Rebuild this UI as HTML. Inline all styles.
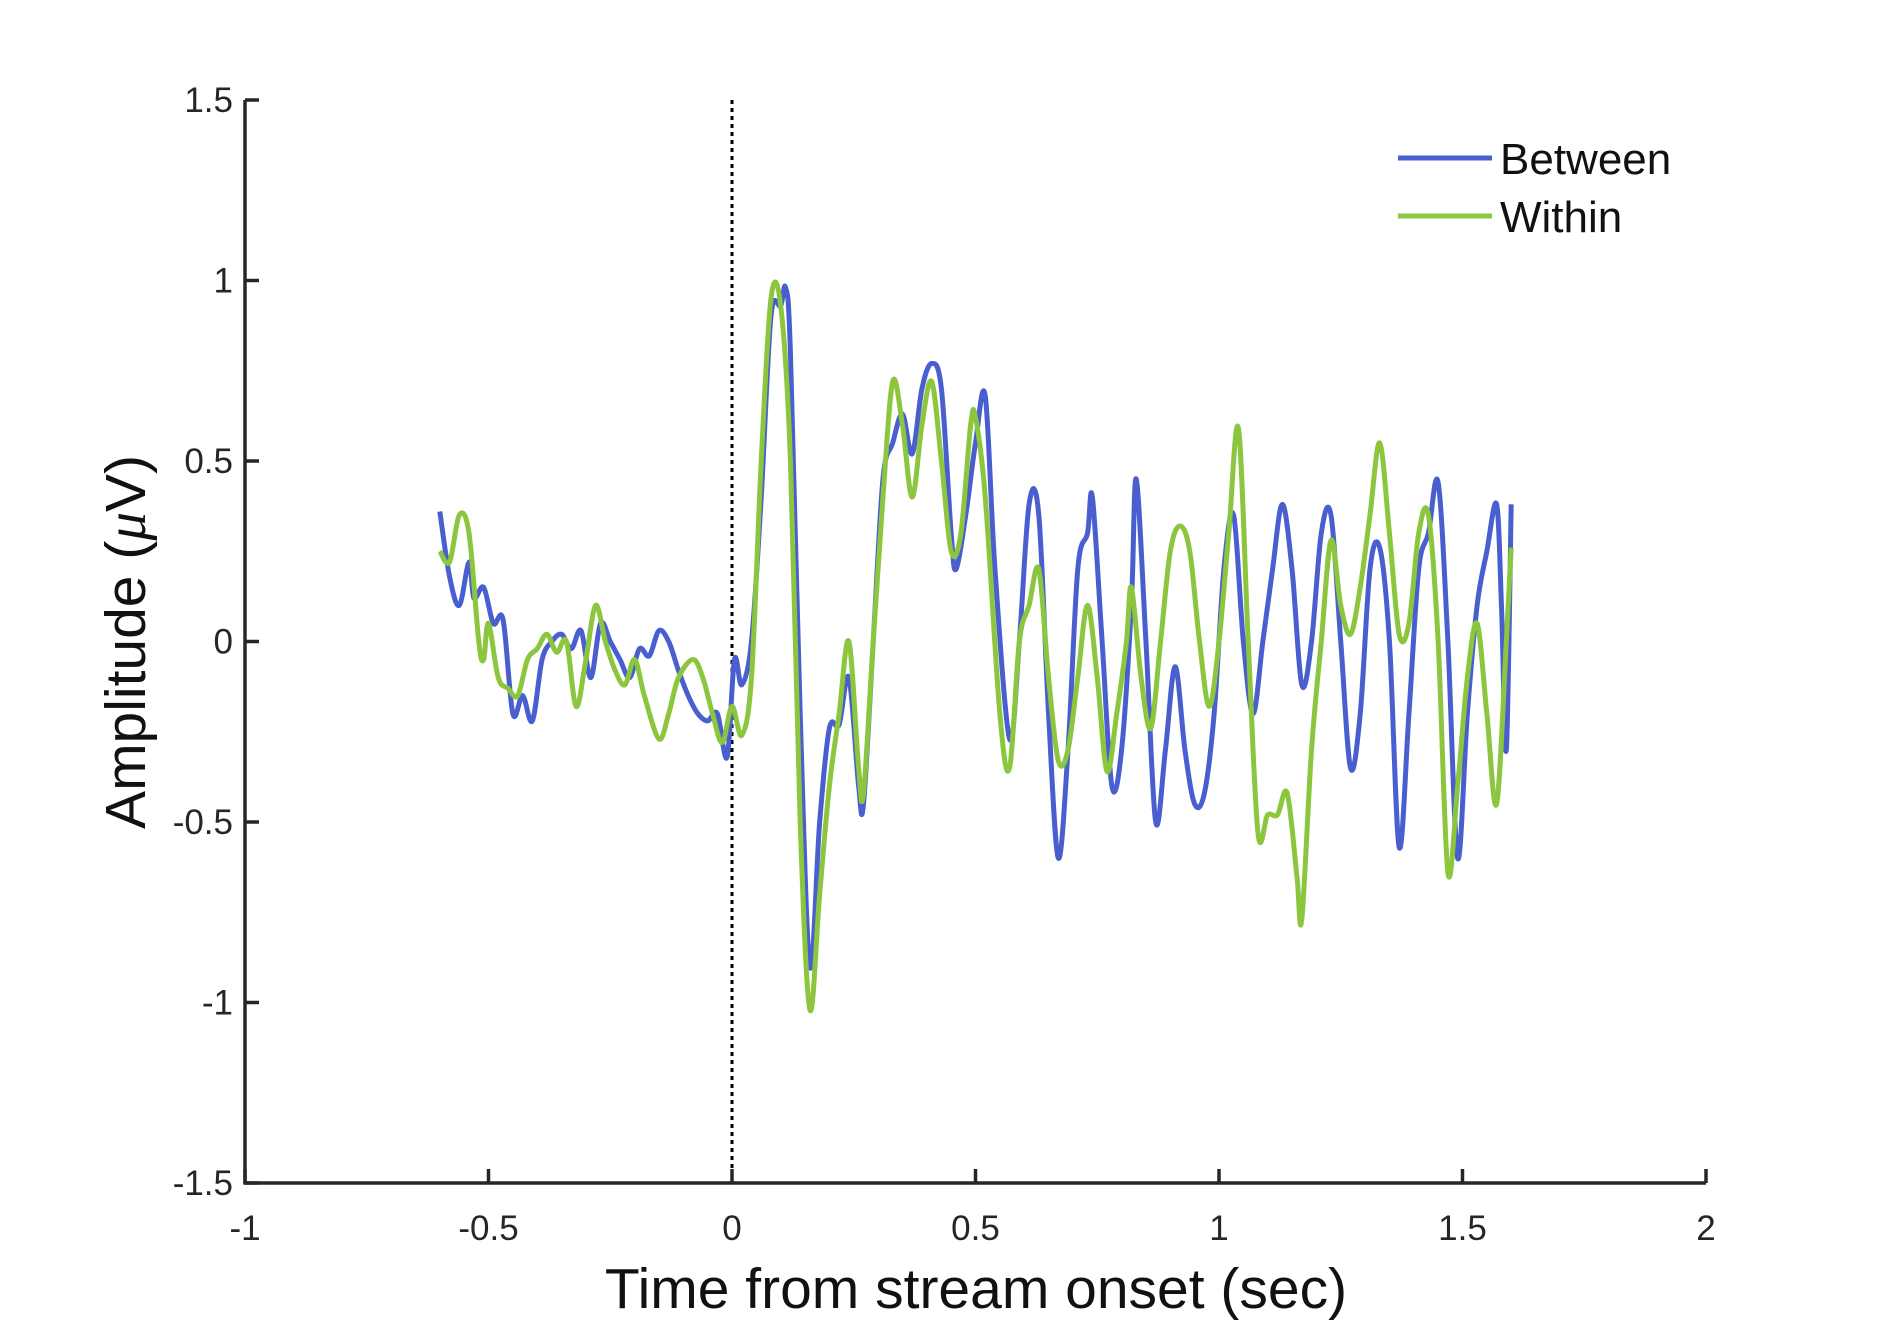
<!DOCTYPE html>
<html><head><meta charset="utf-8"><style>
body{margin:0;background:#fff;}
svg{display:block;font-family:"Liberation Sans",sans-serif;}
</style></head><body>
<svg id="chart" width="1891" height="1337" viewBox="0 0 1891 1337">
<g id="lines"></g>
<g id="axes"></g>
<g>
<line x1="1398" y1="158" x2="1492" y2="158" stroke="#4a5fcf" stroke-width="5"/>
<text x="1500" y="174" font-size="44" fill="#111">Between</text>
<line x1="1398" y1="216" x2="1492" y2="216" stroke="#8cc63f" stroke-width="5"/>
<text x="1500" y="232" font-size="44" fill="#111">Within</text>
</g>
<text x="976" y="1308" font-size="57" text-anchor="middle" fill="#111">Time from stream onset (sec)</text>
<text transform="translate(145,642) rotate(-90)" font-size="57" text-anchor="middle" fill="#111">Amplitude (<tspan font-style="italic" font-family="Liberation Serif">μ</tspan>V)</text>
</svg>
<script>
const betweenT=[-0.6,-0.58,-0.56,-0.54,-0.53,-0.51,-0.49,-0.47,-0.45,-0.43,-0.41,-0.39,-0.37,-0.35,-0.33,-0.31,-0.29,-0.27,-0.25,-0.23,-0.21,-0.19,-0.17,-0.15,-0.13,-0.11,-0.09,-0.07,-0.05,-0.03,-0.01,0.005,0.02,0.04,0.06,0.08,0.1,0.11,0.12,0.14,0.16,0.18,0.2,0.22,0.24,0.26,0.27,0.29,0.31,0.33,0.35,0.37,0.39,0.41,0.43,0.45,0.46,0.48,0.5,0.52,0.54,0.57,0.59,0.61,0.63,0.65,0.67,0.69,0.71,0.73,0.74,0.76,0.78,0.8,0.82,0.83,0.85,0.87,0.89,0.91,0.93,0.95,0.97,0.99,1.01,1.03,1.05,1.07,1.09,1.11,1.13,1.15,1.17,1.19,1.21,1.23,1.25,1.27,1.29,1.31,1.33,1.35,1.37,1.39,1.41,1.43,1.45,1.47,1.49,1.51,1.53,1.55,1.57,1.58,1.59,1.6];
const betweenV=[0.36,0.18,0.1,0.22,0.12,0.15,0.05,0.06,-0.2,-0.15,-0.22,-0.05,0.0,0.02,-0.02,0.03,-0.1,0.05,0.0,-0.05,-0.1,-0.02,-0.04,0.03,0.0,-0.08,-0.15,-0.2,-0.22,-0.2,-0.32,-0.05,-0.12,0.0,0.4,0.9,0.93,0.98,0.8,-0.2,-0.9,-0.5,-0.24,-0.23,-0.1,-0.4,-0.45,0.0,0.45,0.55,0.63,0.52,0.7,0.77,0.7,0.3,0.2,0.35,0.55,0.68,0.2,-0.27,0.0,0.38,0.35,-0.2,-0.6,-0.3,0.2,0.3,0.4,0.0,-0.4,-0.3,0.1,0.45,0.0,-0.5,-0.3,-0.07,-0.3,-0.45,-0.42,-0.2,0.2,0.35,0.0,-0.2,0.0,0.2,0.38,0.2,-0.12,0.0,0.3,0.35,0.0,-0.35,-0.2,0.2,0.26,0.0,-0.57,-0.2,0.2,0.3,0.44,0.0,-0.6,-0.2,0.1,0.25,0.38,0.1,-0.3,0.38];
const withinT=[-0.6,-0.58,-0.56,-0.54,-0.52,-0.51,-0.5,-0.48,-0.46,-0.44,-0.42,-0.4,-0.38,-0.36,-0.34,-0.32,-0.3,-0.28,-0.26,-0.24,-0.22,-0.2,-0.18,-0.15,-0.13,-0.11,-0.08,-0.06,-0.04,-0.02,0.0,0.02,0.04,0.06,0.08,0.1,0.12,0.14,0.16,0.18,0.2,0.22,0.24,0.26,0.27,0.29,0.31,0.33,0.35,0.37,0.39,0.41,0.43,0.45,0.47,0.49,0.5,0.52,0.55,0.57,0.59,0.61,0.63,0.65,0.67,0.69,0.71,0.73,0.75,0.77,0.79,0.81,0.82,0.84,0.86,0.88,0.9,0.92,0.94,0.96,0.98,1.0,1.02,1.04,1.06,1.08,1.1,1.12,1.14,1.16,1.17,1.19,1.21,1.23,1.25,1.27,1.29,1.31,1.33,1.35,1.37,1.39,1.41,1.43,1.45,1.47,1.49,1.51,1.53,1.55,1.57,1.59,1.6];
const withinV=[0.25,0.22,0.35,0.3,0.0,-0.05,0.05,-0.1,-0.13,-0.15,-0.05,-0.02,0.02,-0.03,0.0,-0.18,-0.05,0.1,0.0,-0.08,-0.12,-0.05,-0.15,-0.27,-0.2,-0.1,-0.05,-0.1,-0.2,-0.28,-0.18,-0.26,-0.1,0.5,0.95,0.93,0.5,-0.5,-1.02,-0.7,-0.4,-0.2,0.0,-0.35,-0.42,0.0,0.4,0.72,0.6,0.4,0.6,0.72,0.5,0.25,0.3,0.6,0.62,0.4,-0.2,-0.35,0.0,0.1,0.2,-0.1,-0.33,-0.3,-0.1,0.1,-0.1,-0.36,-0.2,0.0,0.15,-0.1,-0.24,0.0,0.25,0.32,0.25,0.0,-0.18,0.0,0.3,0.59,0.0,-0.53,-0.48,-0.48,-0.42,-0.65,-0.77,-0.3,0.0,0.28,0.1,0.02,0.15,0.35,0.55,0.3,0.02,0.05,0.3,0.35,0.0,-0.64,-0.4,-0.1,0.05,-0.2,-0.45,0.0,0.26];
const xTicks=[-1,-0.5,0,0.5,1,1.5,2];
const xTickLabels=["-1","-0.5","0","0.5","1","1.5","2"];
const yTicks=[-1.5,-1,-0.5,0,0.5,1,1.5];
const yTickLabels=["-1.5","-1","-0.5","0","0.5","1","1.5"];
const L=245,R=1706,T=100,B=1183;
const xs=t=>L+(t+1)/3*(R-L);
const ys=v=>B-(v+1.5)/3*(B-T);
const NS="http://www.w3.org/2000/svg";
function mk(tag,attrs,parent){const e=document.createElementNS(NS,tag);for(const k in attrs)e.setAttribute(k,attrs[k]);parent.appendChild(e);return e;}
function smooth(T_,V){const p=T_.map((t,i)=>[xs(t),ys(V[i])]);let d="M"+p[0][0]+","+p[0][1];
for(let i=0;i<p.length-1;i++){const p0=p[i-1]||p[i],p1=p[i],p2=p[i+1],p3=p[i+2]||p2;
d+=" C"+(p1[0]+(p2[0]-p0[0])/6)+","+(p1[1]+(p2[1]-p0[1])/6)+" "+(p2[0]-(p3[0]-p1[0])/6)+","+(p2[1]-(p3[1]-p1[1])/6)+" "+p2[0]+","+p2[1];}return d;}
const lines=document.getElementById('lines');
const zl=mk('line',{x1:xs(0),x2:xs(0),y1:T,y2:B,stroke:'#000','stroke-width':3,'stroke-dasharray':'4,4'},lines);


const bl=mk('path',{d:smooth(betweenT,betweenV),fill:'none',stroke:'#4a5fcf','stroke-width':5,'stroke-linejoin':'round'},lines);


const wl=mk('path',{d:smooth(withinT,withinV),fill:'none',stroke:'#8cc63f','stroke-width':5,'stroke-linejoin':'round'},lines);


const ax=document.getElementById('axes');
const xa=mk('path',{d:`M${L},${T}V${B}H${R}`,fill:'none',stroke:'#262626','stroke-width':3.5},ax);


xTicks.forEach((t,i)=>{const tk=mk('line',{x1:xs(t),x2:xs(t),y1:B,y2:B-14,stroke:'#262626','stroke-width':3.5},ax);


const tx=mk('text',{x:xs(t),y:B+57,'font-size':35,'text-anchor':'middle',fill:'#262626'},ax);tx.textContent=xTickLabels[i];

});
yTicks.forEach((v,i)=>{const tk=mk('line',{x1:L,x2:L+14,y1:ys(v),y2:ys(v),stroke:'#262626','stroke-width':3.5},ax);


const tx=mk('text',{x:L-12,y:ys(v)+12,'font-size':35,'text-anchor':'end',fill:'#262626'},ax);tx.textContent=yTickLabels[i];

});
</script>
</body></html>
